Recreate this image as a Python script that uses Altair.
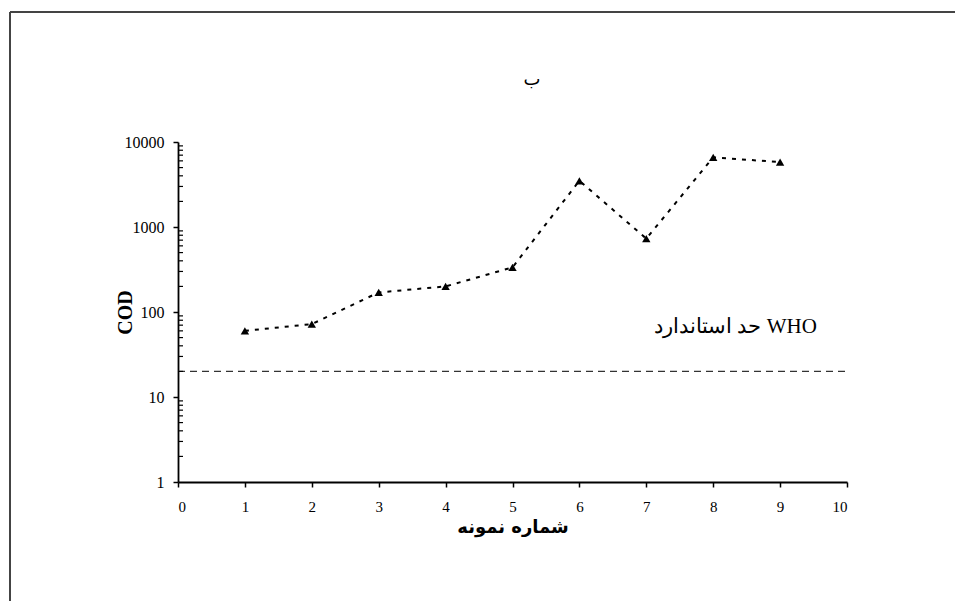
import altair as alt
import pandas as pd

samples = [1, 2, 3, 4, 5, 6, 7, 8, 9]
cod = [60, 72, 170, 200, 335, 3500, 730, 6600, 5800]
who_limit = 20
x_ticks = [0, 1, 2, 3, 4, 5, 6, 7, 8, 9, 10]
y_major = [1, 10, 100, 1000, 10000]
y_minor = [m * d for d in [1, 10, 100, 1000] for m in range(2, 10)]
chart_title = "ب"

FONT = "Liberation Serif"

df = pd.DataFrame({"n": samples, "cod": cod})
who_df = pd.DataFrame({"x": [0], "x2": [10], "y": [who_limit]})
minor_df = pd.DataFrame({"y": y_minor})
ann_df = pd.DataFrame({"x": [9.55], "y": [66], "t": ["حد استاندارد WHO"]})
title_df = pd.DataFrame({"t": [chart_title]})

xs = alt.Scale(domain=[0, 10], nice=False)
ys = alt.Scale(type="log", domain=[1, 10000], nice=False)

base = alt.Chart(df)

line = base.mark_line(color="black", strokeWidth=2, strokeDash=[4, 6]).encode(
    x=alt.X("n:Q", scale=xs, title="شماره نمونه",
            axis=alt.Axis(values=x_ticks, format="d", grid=False, domainColor="black",
                          domainWidth=1.8, tickColor="black", tickSize=5, tickWidth=1.5,
                          labelFont=FONT, labelFontSize=15, labelColor="black",
                          titleFont="DejaVu Sans", titleFontSize=18, titleFontWeight="bold",
                          titleColor="black", titlePadding=4, labelPadding=12)),
    y=alt.Y("cod:Q", scale=ys, title="COD",
            axis=alt.Axis(values=y_major, format="d", grid=False, domainColor="black",
                          domainWidth=1.8, tickColor="black", tickSize=5, tickWidth=1.5,
                          labelFont=FONT, labelFontSize=16, labelColor="black",
                          titleFont=FONT, titleFontSize=20, titleFontWeight="bold",
                          titleColor="black", titleAngle=270, titleAlign="center",
                          titleBaseline="middle", titleX=-53, titleY=170,
                          labelPadding=9)),
)

pts = base.mark_point(shape="triangle-up", filled=True, color="black", size=70, opacity=1).encode(
    x=alt.X("n:Q", scale=xs), y=alt.Y("cod:Q", scale=ys)
)

who = alt.Chart(who_df).mark_rule(color="#333333", strokeWidth=1.2, strokeDash=[7, 5]).encode(
    x=alt.X("x:Q", scale=xs), x2="x2:Q", y=alt.Y("y:Q", scale=ys)
)

minor = alt.Chart(minor_df).mark_rule(color="black", strokeWidth=1.2).encode(
    x=alt.value(0), x2=alt.value(5), y=alt.Y("y:Q", scale=ys)
)

ann = alt.Chart(ann_df).mark_text(align="right", baseline="middle", font=FONT, fontSize=21,
                                  color="black").encode(
    x=alt.X("x:Q", scale=xs), y=alt.Y("y:Q", scale=ys), text="t:N"
)

title_mark = alt.Chart(title_df).mark_text(align="center", baseline="middle",
                                           font="DejaVu Sans", fontSize=18,
                                           color="black").encode(
    x=alt.value(354), y=alt.value(-62), text="t:N"
)

frame_left = alt.Chart(df).mark_rule(color="#444444", strokeWidth=1.5).encode(
    x=alt.value(-168), y=alt.value(-130), y2=alt.value(470)
)
frame_top = alt.Chart(df).mark_rule(color="#444444", strokeWidth=1.5).encode(
    x=alt.value(-168), x2=alt.value(790), y=alt.value(-130)
)

chart = alt.layer(frame_left, frame_top, who, minor, line, pts, ann, title_mark).properties(
    width=669, height=340,
    background="white",
    autosize=alt.AutoSizeParams(type="none"),
    padding={"left": 178, "top": 142, "right": 108, "bottom": 119},
).configure_view(strokeWidth=0, stroke="transparent")

chart.save("out.html", embed_options={"renderer": "svg", "actions": False})
